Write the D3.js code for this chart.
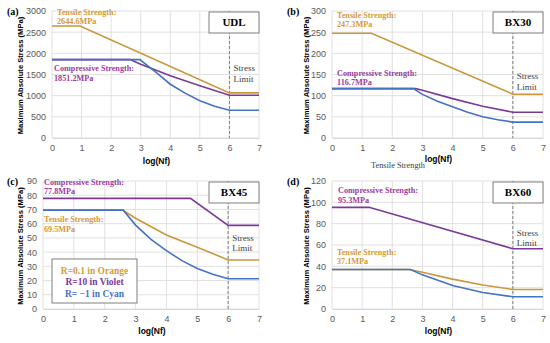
<!DOCTYPE html>
<html>
<head>
<meta charset="utf-8">
<script src="https://cdn.jsdelivr.net/npm/d3@7"></script>
<style>
  body { margin: 0; background: #fff; }
  svg { display: block; }
</style>
</head>
<body>
<svg id="chart" width="550" height="343"></svg>
<script>
// data: [log(Nf), stress MPa]
const udlTensile = [[0, 2644.6], [0.95, 2644.6], [6, 1065], [7, 1065]]
const udlCompressive = [[0, 1851.2], [2.64, 1851.2], [3, 1740], [4, 1470], [5, 1235], [6, 1010], [7, 1010]]
const udlReversed = [[0, 1851.2], [2.97, 1851.2], [3.25, 1700], [3.5, 1560], [4, 1270], [4.5, 1060], [5, 880], [5.5, 750], [6, 655], [7, 655]]

const bx30Tensile = [[0, 247.3], [1.31, 247.3], [6, 103.5], [7, 103.5]]
const bx30Compressive = [[0, 116.7], [2.78, 116.7], [3, 113], [4, 93], [5, 75], [6, 61], [7, 61]]
const bx30Reversed = [[0, 116.7], [2.7, 116.7], [3, 103], [3.5, 87], [4, 74], [4.5, 61], [5, 50], [5.5, 43], [6, 37.5], [7, 37.5]]

const bx45Tensile = [[0, 69.5], [2.58, 69.5], [3, 63.8], [4, 52], [5, 43.5], [6, 34.5], [7, 34.5]]
const bx45Compressive = [[0, 77.8], [4.78, 77.8], [6, 58.8], [7, 58.8]]
const bx45Reversed = [[0, 69.5], [2.6, 69.5], [3, 59], [3.5, 49], [4, 41], [4.5, 34], [5, 28.5], [5.5, 24.5], [6, 21.3], [7, 21.3]]

const bx60Tensile = [[0, 37.1], [2.56, 37.1], [3, 34.5], [4, 28], [5, 22.5], [6, 18.3], [7, 18.3]]
const bx60Compressive = [[0, 95.3], [1.23, 95.3], [6, 56.5], [7, 56.5]]
const bx60Reversed = [[0, 37.1], [2.6, 37.1], [3, 32], [4, 22], [5, 15.5], [6, 11.5], [7, 11.5]]

const xTicks = [0, 1, 2, 3, 4, 5, 6, 7]
const udlTicks = [0, 500, 1000, 1500, 2000, 2500, 3000]
const bx30Ticks = [0, 50, 100, 150, 200, 250, 300]
const bx45Ticks = [0, 10, 20, 30, 40, 50, 60, 70, 80, 90]
const bx60Ticks = [0, 20, 40, 60, 80, 100, 120]
const stressLimit = 6

const legendLabels = ["R=0.1 in Orange", "R=10 in Violet", "R= \u22121 in Cyan"]

// colours
const orange = "#c9973c", violet = "#7b3a97", blue = "#4472c4"
const orangeText = "#d39a3a", violetText = "#9a3ca0"

const serif = "'Liberation Serif', 'Times New Roman', serif"
const sans = "'Liberation Sans', Arial, sans-serif"

const svg = d3.select("#chart")

// panel layout
const panels = [
    { tag: "(a)", name: "UDL", left: 52, right: 259, top: 11, bottom: 138, ticks: udlTicks,
      series: [udlTensile, udlCompressive, udlReversed], tagX: 7, labelX: 20, xLabelY: 164,
      notes: [
        { text: ["Tensile Strength:", "2644.6MPa"], x: 57, y: 14.5, color: orangeText },
        { text: ["Compressive Strength:", "1851.2MPa"], x: 54, y: 71.3, color: violetText }
      ], limitY: 71 },
    { tag: "(b)", name: "BX30", left: 332, right: 543, top: 11, bottom: 138, ticks: bx30Ticks,
      series: [bx30Tensile, bx30Compressive, bx30Reversed], tagX: 287, labelX: 306, xLabelY: 162,
      notes: [
        { text: ["Tensile Strength:", "247.3MPa"], x: 337, y: 18, color: orangeText },
        { text: ["Compressive Strength:", "116.7MPa"], x: 337, y: 75.7, color: violetText }
      ], limitY: 79 },
    { tag: "(c)", name: "BX45", left: 43, right: 259, top: 181, bottom: 309, ticks: bx45Ticks,
      series: [bx45Tensile, bx45Compressive, bx45Reversed], tagX: 7, labelX: 20, xLabelY: 334,
      notes: [
        { text: ["Compressive Strength:", "77.8MPa"], x: 44, y: 185, color: violetText },
        { text: ["Tensile Strength:", "69.5MPa"], x: 44, y: 222.3, color: orangeText }
      ], limitY: 240.7 },
    { tag: "(d)", name: "BX60", left: 332, right: 543, top: 181, bottom: 309, ticks: bx60Ticks,
      series: [bx60Tensile, bx60Compressive, bx60Reversed], tagX: 287, labelX: 306, xLabelY: 334,
      notes: [
        { text: ["Compressive Strength:", "95.3MPa"], x: 338, y: 193.3, color: violetText },
        { text: ["Tensile Strength:", "37.1MPa"], x: 337, y: 255, color: orangeText }
      ], limitY: 235.7 }
]

const lineColors = [orange, violet, blue]

panels.forEach(p => {
    const x = d3.scaleLinear().domain([0, 7]).range([p.left, p.right])
    const yMax = p.ticks[p.ticks.length - 1]
    const y = d3.scaleLinear().domain([0, yMax]).range([p.bottom, p.top])
    const g = svg.append("g")

    // grid
    g.append("g").selectAll("line")
        .data(p.ticks)
        .join("line")
        .attr("x1", p.left).attr("x2", p.right)
        .attr("y1", d => y(d)).attr("y2", d => y(d))
        .attr("stroke", "#d9d9d9").attr("stroke-width", 0.8)
    g.append("g").selectAll("line")
        .data(xTicks)
        .join("line")
        .attr("x1", d => x(d)).attr("x2", d => x(d))
        .attr("y1", p.top).attr("y2", p.bottom)
        .attr("stroke", "#d9d9d9").attr("stroke-width", 0.8)

    // axes
    const ya = g.append("g")
        .attr("transform", `translate(${p.left},0)`)
        .call(d3.axisLeft(y).tickValues(p.ticks).tickFormat(d3.format("d")).tickSize(0).tickPadding(6))
    const xa = g.append("g")
        .attr("transform", `translate(0,${p.bottom})`)
        .call(d3.axisBottom(x).tickValues(xTicks).tickFormat(d3.format("d")).tickSize(0).tickPadding(7))
    ya.select(".domain").remove()
    xa.select(".domain").attr("stroke", "#d9d9d9")
    g.selectAll(".tick text").attr("font-family", sans).attr("font-size", 9).attr("fill", "#595959")

    // axis titles
    g.append("text")
        .attr("transform", `translate(${p.labelX},${(p.top + p.bottom) / 2 + 1}) rotate(-90)`)
        .attr("text-anchor", "middle").attr("dy", "0.35em")
        .attr("font-family", sans).attr("font-weight", "bold").attr("font-size", 7.6)
        .text("Maximum Absolute Stress (MPa)")
    g.append("text")
        .attr("x", (p.left + p.right) / 2 + 1).attr("y", p.xLabelY)
        .attr("text-anchor", "middle")
        .attr("font-family", sans).attr("font-weight", "bold").attr("font-size", 8.5)
        .text("log(Nf)")

    // panel tag
    g.append("text")
        .attr("x", p.tagX).attr("y", p.top + 4)
        .attr("font-family", serif).attr("font-weight", "bold").attr("font-size", 10)
        .text(p.tag)

    // stress limit
    g.append("line")
        .attr("x1", x(stressLimit)).attr("x2", x(stressLimit))
        .attr("y1", p.top).attr("y2", p.bottom)
        .attr("stroke", "#7f7f7f").attr("stroke-width", 1).attr("stroke-dasharray", "3,2")
    g.append("text")
        .attr("font-family", serif).attr("font-size", 9).attr("fill", "#404040")
        .selectAll("tspan")
        .data(["Stress", "Limit"])
        .join("tspan")
        .attr("x", x(stressLimit) + 4)
        .attr("y", (d, i) => p.limitY + i * 10.5)
        .text(d => d)

    // series
    const line = d3.line().x(d => x(d[0])).y(d => y(d[1]))
    p.series.forEach((s, i) => {
        g.append("path")
            .datum(s)
            .attr("d", line)
            .attr("fill", "none")
            .attr("stroke", lineColors[i])
            .attr("stroke-width", 1.6)
    })

    // notes
    p.notes.forEach(n => {
        g.append("text")
            .attr("font-family", serif).attr("font-weight", "bold").attr("font-size", 8.2)
            .attr("fill", n.color)
            .selectAll("tspan")
            .data(n.text)
            .join("tspan")
            .attr("x", n.x)
            .attr("y", (d, i) => n.y + i * 9.2)
            .text(d => d)
    })

    // name box
    const bw = 50, bh = 21
    g.append("rect")
        .attr("x", p.right - bw).attr("y", p.top + 1)
        .attr("width", bw).attr("height", bh)
        .attr("fill", "#fff").attr("stroke", "#7f7f7f").attr("stroke-width", 1)
    g.append("text")
        .attr("x", p.right - bw / 2).attr("y", p.top + 1 + bh / 2)
        .attr("text-anchor", "middle").attr("dy", "0.35em")
        .attr("font-family", serif).attr("font-weight", "bold").attr("font-size", 11)
        .text(p.name)
})

// legend in panel (c)
const lg = svg.append("g")
lg.append("rect")
    .attr("x", 52).attr("y", 259).attr("width", 85).attr("height", 44)
    .attr("fill", "#fff").attr("stroke", "#7f7f7f").attr("stroke-width", 1)
lg.selectAll("text")
    .data(legendLabels)
    .join("text")
    .attr("x", 94.5)
    .attr("y", (d, i) => 270.5 + i * 11.5)
    .attr("text-anchor", "middle").attr("dy", "0.35em")
    .attr("font-family", serif).attr("font-weight", "bold").attr("font-size", 9.5)
    .attr("fill", (d, i) => [orangeText, violet, blue][i])
    .text(d => d)

// stray caption under panel (b)
svg.append("text")
    .attr("x", 371).attr("y", 168)
    .attr("font-family", serif).attr("font-size", 8)
    .attr("textLength", 54).attr("lengthAdjust", "spacingAndGlyphs")
    .attr("fill", "#404040")
    .text("Tensile Strength")
</script>
</body>
</html>
